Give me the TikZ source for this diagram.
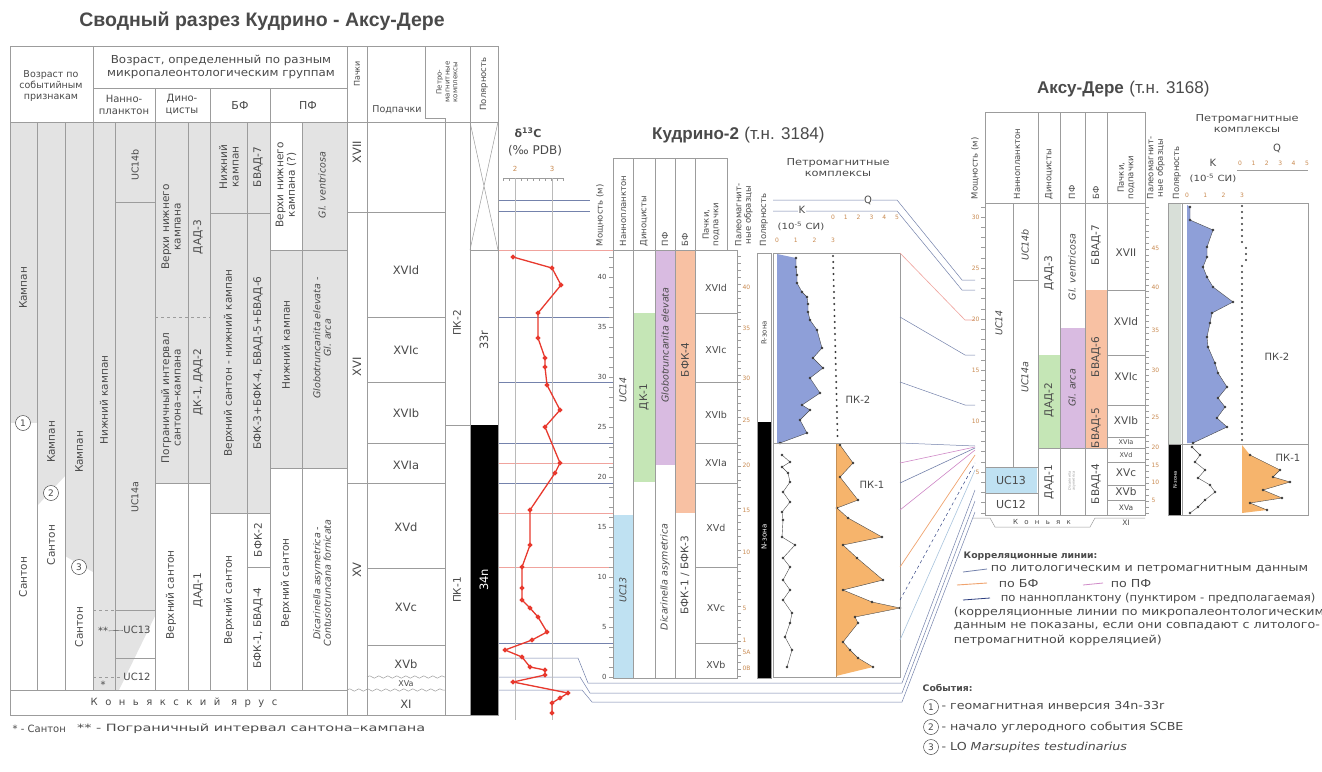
\documentclass[tikz,border=0pt]{standalone}
\usepackage{fontspec}
\setmainfont{DejaVu Sans}
\newfontfamily\hdfont{Liberation Sans}
\usetikzlibrary{positioning,decorations.pathmorphing}
\definecolor{TxtGray}{HTML}{4A4A4A}
\definecolor{GridGray}{HTML}{9C9C9C}
\definecolor{FillGray}{HTML}{E3E3E3}
\definecolor{CurveRed}{HTML}{E8392E}
\definecolor{HairRed}{HTML}{F0A39D}
\definecolor{NannoBlue}{HTML}{BFE1F2}
\definecolor{DinoGreen}{HTML}{C5E6B6}
\definecolor{PfPurple}{HTML}{D9BBE1}
\definecolor{BfSalmon}{HTML}{F8C1A3}
\definecolor{KBlue}{HTML}{8E9FD8}
\definecolor{QOrange}{HTML}{F6B46C}
\definecolor{AxisOrange}{HTML}{C98A50}
\definecolor{CorrBlue}{HTML}{7482AC}
\definecolor{CorrNavy}{HTML}{2E3F80}
\definecolor{CorrOrange}{HTML}{F0A36E}
\definecolor{CorrPink}{HTML}{D08AC8}
\definecolor{PolGray}{HTML}{D8DFD8}
\definecolor{DotGray}{HTML}{3A3A3A}

\begin{document}
\begin{tikzpicture}[
    x=1pt, y=-1pt,
    lab/.style={font=\fontsize{10}{11}\selectfont, text=TxtGray, inner sep=0.5pt, align=center},
    labv/.style={font=\fontsize{10.5}{11.5}\selectfont, text=TxtGray, inner sep=0.5pt, align=center, rotate=90},
    latv/.style={font=\fontsize{9.5}{10.5}\selectfont\itshape, text=TxtGray, inner sep=0.5pt, align=center, rotate=90},
    hd/.style={font=\fontsize{8.5}{9.5}\selectfont, text=TxtGray, inner sep=0.5pt, align=center},
    hdv/.style={hd, rotate=90},
    pkl/.style={font=\fontsize{11.5}{12}\selectfont, text=TxtGray, inner sep=0.5pt},
    pks/.style={font=\fontsize{9.5}{10}\selectfont, text=TxtGray, inner sep=0.5pt},
    smpl/.style={font=\fontsize{6}{6.5}\selectfont, text=AxisOrange, inner sep=0.3pt},
    depth/.style={font=\fontsize{7}{7.5}\selectfont, text=TxtGray, inner sep=0.3pt},
    ttl/.style={font=\hdfont\fontsize{19.5}{22}\selectfont\bfseries, text=TxtGray, inner sep=0},
    sttl/.style={font=\hdfont\fontsize{17}{19}\selectfont\bfseries, text=TxtGray, inner sep=0},
    sttn/.style={font=\hdfont\fontsize{17}{19}\selectfont, text=TxtGray, inner sep=0},
    leg/.style={font=\fontsize{11}{12}\selectfont, text=TxtGray, inner sep=0.5pt, anchor=west, xscale=1.15},
    gl/.style={draw=GridGray, line width=0.5pt},
    corr/.style={draw=CorrBlue, line width=0.5pt},
    rcorr/.style={draw=HairRed, line width=0.6pt},
    wave/.style={gl, decorate, decoration={snake, segment length=9pt, amplitude=1.2pt}},
    kline/.style={draw=TxtGray, line width=0.4pt, mark=*, mark size=1.1pt, mark options={fill=DotGray, draw=DotGray}},
    evc/.style={circle, draw=TxtGray, fill=white, line width=0.5pt, inner sep=0pt, minimum size=15pt, font=\fontsize{9}{10}\selectfont, text=TxtGray},
]
\useasboundingbox (0,0) rectangle (1322,771);
\fill[white] (0,0) rectangle (1322,771);

\node[ttl] (title) at (262,21) {Сводный разрез Кудрино - Аксу-Дере};

% ---------- composite section: fills
\fill[FillGray] (10,122) rectangle (37,423);
\fill[FillGray] (37,122) -- (65,122) -- (65,476) -- (37,506) -- cycle;
\fill[FillGray] (65,122) -- (93,122) -- (93,572) -- (65,556) -- cycle;
\fill[FillGray] (93,122) rectangle (155,610);
\fill[FillGray] (93,610) rectangle (115,690);
\fill[FillGray] (115,610) -- (155,610) -- (155,616) -- (119,690) -- (115,690) -- cycle;
\fill[FillGray] (155,122) rectangle (210,483);
\fill[FillGray] (210,122) rectangle (270,513);
\fill[FillGray] (302,122) rectangle (347,250);
\fill[FillGray] (270,250) rectangle (347,468);
\fill[black] (470,425) rectangle (498,715);

% ---------- correlation lines, left part
\draw[corr] (498,200) -- (590,200);
\draw[corr] (498,211) -- (590,211);
\draw[rcorr] (498,250) -- (613,250);
\foreach \y in {317,382,443,483,643} \draw[corr] (498,\y) -- (613,\y);
\foreach \y in {463,513,567} \draw[rcorr] (498,\y) -- (613,\y);
\draw[corr] (498,658) -- (578,658) -- (588,683) -- (902,683) -- (975,490);
\draw[corr] (498,677) -- (580,677) -- (590,693) -- (902,693) -- (975,501);
\draw[corr] (498,690) -- (582,690) -- (592,702) -- (902,702) -- (975,512);

% ---------- composite section: grid
\draw[gl] (10,46) rectangle (498,715);
\draw[gl] (93,88) -- (347,88);
\draw[gl] (10,122) -- (498,122);
\draw[gl] (93,46) -- (93,690);
\foreach \x in {37,65,115,188,247,302} \draw[gl] (\x,122) -- (\x,690);
\foreach \x in {155,210,270} \draw[gl] (\x,88) -- (\x,690);
\foreach \x in {347,367,470} \draw[gl] (\x,46) -- (\x,715);
\draw[gl] (425,46) -- (425,118) -- (445,118) -- (445,715);
\draw[gl] (10,690) -- (347,690);
\draw[gl, dashed] (155,317) -- (210,317);
\draw[gl] (155,483) -- (210,483);
\draw[gl] (210,213) -- (270,213);
\draw[gl] (210,513) -- (270,513);
\draw[gl] (247,567) -- (270,567);
\draw[gl] (270,250) -- (347,250);
\draw[gl] (270,468) -- (347,468);
\draw[gl] (115,202) -- (155,202);
\draw[gl, dashed] (93,610) -- (115,610);
\draw[gl] (115,610) -- (155,610);
\draw[gl] (115,658) -- (155,658);
\draw[gl, dashed] (93,677) -- (120,677);
\draw[gl] (347,212) -- (445,212);
\draw[gl] (347,483) -- (445,483);
\foreach \y in {317,382,443,568,645} \draw[gl] (367,\y) -- (445,\y);
\draw[wave] (367,677) -- (445,677);
\draw[wave] (347,690) -- (445,690);
\draw[gl] (445,425) -- (470,425);
\draw[gl] (470,250) -- (498,250);
\draw[gl] (470,122) -- (498,250) (498,122) -- (470,250);

% ---------- composite section: texts
\node[hd, font=\fontsize{9.5}{11}\selectfont] (hEv) at (51,86) {Возраст по\\событийным\\признакам};
\node[hd, font=\fontsize{11}{13}\selectfont, xscale=1.08] (hMic) at (221,67) {Возраст, определенный по разным\\микропалеонтологическим группам};
\node[hd, font=\fontsize{10}{12}\selectfont] (hNan) at (124,105) {Нанно-\\планктон};
\node[hd, font=\fontsize{10}{12}\selectfont] (hDin) at (182,105) {Дино-\\цисты};
\node[lab, font=\fontsize{11}{12}\selectfont] (hBf) at (240,105) {БФ};
\node[lab, font=\fontsize{11}{12}\selectfont] (hPf) at (308,105) {ПФ};
\node[hdv, font=\fontsize{8}{9}\selectfont] (hPach) at (357,74) {Пачки};
\node[hd, font=\fontsize{9.5}{10}\selectfont] (hPod) at (397,110) {Подпачки};
\node[hdv, font=\fontsize{7}{7.8}\selectfont] (hPmk) at (447,82) {Петро-\\магнитные\\комплексы};
\node[hdv, font=\fontsize{8.5}{9}\selectfont] (hPol) at (484,84) {Полярность};

\node[labv] (e1a) at (23,288) {Кампан};
\node[labv] (e1b) at (23,577) {Сантон};
\node[labv] (e2a) at (51,442) {Кампан};
\node[labv] (e2b) at (51,545) {Сантон};
\node[labv] (e3a) at (79,452) {Кампан};
\node[labv] (e3b) at (79,627) {Сантон};
\node[evc] (c1) at (23,423) {1};
\node[evc] (c2) at (51,493) {2};
\node[evc] (c3) at (79,567) {3};

\node[labv] (nn1) at (104,400) {Нижний кампан};
\node[latv, font=\fontsize{9.5}{10.5}\selectfont] (uc14b) at (135,165) {UC14b};
\node[latv, font=\fontsize{9.5}{10.5}\selectfont] (uc14a) at (135,497) {UC14a};
\node[lab] (uc13) at (137,630) {UC13};
\node[lab] (uc12) at (137,677) {UC12};
\node[lab] (st2) at (103,631) {**};
\node[lab] (st1) at (103,685) {*};
\draw[TxtGray, line width=0.4pt] (st2) -- (uc13);

\node[labv] (d1) at (171,227) {Верхи нижнего\\кампана};
\node[labv] (d2) at (198,237) {ДАД-3};
\node[labv] (d3) at (171,398) {Пограничный интервал\\сантона–кампана};
\node[labv] (d4) at (198,382) {ДК-1, ДАД-2};
\node[labv] (d5) at (171,595) {Верхний сантон};
\node[labv] (d6) at (198,590) {ДАД-1};

\node[labv] (b1) at (229,167) {Нижний\\кампан};
\node[labv] (b2) at (258,167) {БВАД-7};
\node[labv] (b3) at (229,363) {Верхний сантон - нижний кампан};
\node[labv] (b4) at (258,363) {БФК-3+БФК-4, БВАД-5+БВАД-6};
\node[labv] (b5) at (229,600) {Верхний сантон};
\node[labv] (b6) at (258,540) {БФК-2};
\node[labv] (b7) at (258,628) {БФК-1, БВАД-4};

\node[labv] (p1) at (286,185) {Верхи нижнего\\кампана (?)};
\node[latv] (p2) at (322,185) {Gl. ventricosa};
\node[labv] (p3) at (286,345) {Нижний кампан};
\node[latv] (p4) at (322,338) {Globotruncanita elevata -\\Gl. arca};
\node[labv] (p5) at (286,583) {Верхний сантон};
\node[latv] (p6) at (322,583) {Dicarinella asymetrica -\\Contusotruncana fornicata};

\node[pkl, rotate=90] (pa1) at (357,152) {XVII};
\node[pkl, rotate=90] (pa2) at (357,367) {XVI};
\node[pkl, rotate=90] (pa3) at (357,570) {XV};
\foreach \y/\s [count=\i] in {270/XVId, 350/XVIc, 413/XVIb, 465/XVIa, 527/XVd, 607/XVc, 664/XVb}
  \node[pkl] (pp\i) at (406,\y) {\s};
\node[pkl, font=\fontsize{8}{8}\selectfont] (pp8) at (406,684) {XVa};
\node[pkl] (pp9) at (406,704) {XI};
\node[labv] (pk2) at (457,323) {ПК-2};
\node[labv] (pk1) at (457,590) {ПК-1};
\node[pkl, rotate=90] (pz1) at (484,340) {33r};
\node[pkl, rotate=90, text=white] (pz2) at (484,580) {34n};
\node[lab] (kon) at (184,703) {\addfontfeatures{LetterSpace=75}Коньякский ярус};

\node[lab, anchor=west] (fn1) at (12,729) {* - Сантон};
\node[lab, anchor=west, xscale=1.45] (fn2) at (76,729) {** - Пограничный интервал сантона–кампана};

% ---------- delta 13C
\node[font=\fontsize{11}{12}\selectfont\bfseries, text=TxtGray, inner sep=0] (dttl) at (528,133) {δ\textsuperscript{13}C};
\node[font=\fontsize{12}{13}\selectfont, text=TxtGray, inner sep=0] (dunit) at (535,151) {(‰ PDB)};
\draw[gl] (503,178) -- (563,178);
\foreach \x in {503,509,...,563} \draw[gl] (\x,178) -- (\x,181);
\node[smpl, font=\fontsize{7}{7}\selectfont] (dax1) at (515,169) {2};
\node[smpl, font=\fontsize{7}{7}\selectfont] (dax2) at (552,169) {3};
\draw[draw=GridGray!70] (515,178) -- (515,720) (552,178) -- (552,720);
\draw[CurveRed, line width=1.3pt, mark=*, mark size=1.8pt, mark options={fill=CurveRed, draw=CurveRed}] plot coordinates {
  (513,257) (552,268) (561,285) (538,313) (538,338) (545,358) (545,367) (547,385)
  (560,410) (545,427) (560,463) (555,473) (530,510) (530,545) (522,567) (522,588)
  (522,600) (530,608) (538,617) (547,632) (532,640) (505,650) (522,657) (530,667)
  (545,670) (545,675) (513,682) (568,693) (560,698) (552,703) (552,713)};

% ---------- Кудрино-2
\node[sttl, anchor=base west] (k2) at (652,139) {Кудрино-2};
\node[sttn, anchor=base west] (k2n) at ([xshift=5pt]k2.base east) {(т.н. 3184)};
\fill[NannoBlue] (613,515) rectangle (633,678);
\fill[DinoGreen] (633,313) rectangle (655,482);
\fill[PfPurple] (655,250) rectangle (675,465);
\fill[BfSalmon] (675,250) rectangle (695,513);
\draw[gl] (613,158) -- (727,158);
\foreach \x in {613,633,655,675,695,727} \draw[gl] (\x,158) -- (\x,250);
\draw[gl] (613,250) rectangle (737,678);
\foreach \x in {633,655,675,695} \draw[gl] (\x,250) -- (\x,678);
\foreach \y in {313,382,443,483,567,643} \draw[gl] (695,\y) -- (737,\y);
\node[hdv, anchor=west] (kh1) at (600,247) {Мощность (м)};
\node[hdv, anchor=west] (kh2) at (623,247) {Наннопланктон};
\node[hdv, anchor=west] (kh3) at (644,247) {Диноцисты};
\node[hdv, anchor=west] (kh4) at (665,247) {ПФ};
\node[hdv, anchor=west] (kh5) at (685,247) {БФ};
\node[hdv, anchor=west] (kh6) at (711,247) {Пачки,\\подпачки};
\node[hdv, anchor=west] (kh7) at (744,247) {Палеомагнит-\\ные образцы};
\node[hdv, anchor=west] (kh8) at (764,247) {Полярность};
\node[latv] (kuc14) at (623,390) {UC14};
\node[latv] (kuc13) at (623,590) {UC13};
\node[labv] (kdk1) at (644,397) {ДК-1};
\node[latv] (kpf1) at (665,345) {Globotruncanita elevata};
\node[latv] (kpf2) at (665,577) {Dicarinella asymetrica};
\node[labv] (kbf1) at (685,360) {БФК-4};
\node[labv] (kbf2) at (685,575) {БФК-1 / БФК-3};
\foreach \y/\s [count=\i] in {288/XVId, 350/XVIc, 415/XVIb, 463/XVIa, 528/XVd, 608/XVc, 665/XVb}
  \node[pks] (kp\i) at (716,\y) {\s};
\foreach \v in {0,...,42} \draw[gl] (609,{677-10*\v}) -- (613,{677-10*\v});
\foreach \v in {0,5,...,40} \node[depth, anchor=east] (kd\v) at (607,{677-10*\v}) {\v};
\foreach \y in {256,263,...,676} \draw[gl] (737,\y) -- (741,\y);
\foreach \y/\s [count=\i] in {287/40, 328/35, 378/30, 420/25, 465/20, 510/15, 552/10, 608/5, 640/1, 652/5A, 668/0B}
  \node[smpl, anchor=west] (ks\i) at (742,\y) {\s};
\fill[black] (757,422) rectangle (771,678);
\draw[gl] (757,253) rectangle (771,678);
\node[hdv, font=\fontsize{7}{8}\selectfont] (kr) at (764,333) {R-зона};
\node[hdv, font=\fontsize{7}{8}\selectfont, text=white] (kn) at (764,537) {N-зона};

% petromagnetic logs, Кудрино-2
\fill[KBlue] (777,254) -- (796,258) -- (796,267) -- (797,275) -- (797,283) -- (802,292) -- (807,297)
  -- (808,304) -- (808,312) -- (810,320) -- (817,330) -- (822,348) -- (813,358) -- (823,368)
  -- (810,378) -- (820,393) -- (802,405) -- (810,410) -- (800,420) -- (807,433) -- (780,443)
  -- (777,443) -- cycle;
\draw[kline] plot coordinates {(796,258) (796,267) (797,275) (797,283) (802,292) (807,297)
  (808,304) (808,312) (810,320) (817,330) (822,348) (813,358) (823,368) (810,378) (820,393)
  (802,405) (810,410) (800,420) (807,433) (780,443)};
\draw[kline] plot coordinates {(782,455) (790,462) (782,467) (788,473) (790,482) (783,492)
  (790,502) (782,512) (783,520) (782,537) (795,545) (783,558) (790,567) (783,580) (790,590)
  (783,600) (792,613) (790,623) (785,637) (792,650) (787,667)};
\fill[QOrange] (836,443) -- (840,445) -- (853,463) -- (840,477) -- (858,500) -- (837,508)
  -- (848,518) -- (882,537) -- (843,545) -- (857,558) -- (883,580) -- (843,590) -- (872,602)
  -- (900,608) -- (855,617) -- (858,623) -- (843,642) -- (850,650) -- (858,658) -- (873,667)
  -- (836,676) -- cycle;
\draw[kline] plot coordinates {(840,445) (853,463) (840,477) (858,500) (837,508) (848,518)
  (882,537) (843,545) (857,558) (883,580) (843,590) (872,602) (900,608) (855,617) (858,623)
  (843,642) (850,650) (858,658) (873,667)};
\draw[draw=QOrange!80!black, line width=0.4pt] (836,443) -- (836,677);
\foreach \y in {256,262,...,440} \fill[DotGray] ({833+0.025*(\y-256)},\y) circle (1.1pt);
\draw[gl] (773,253) rectangle (900,677);
\draw[gl] (773,443) -- (900,443);
\node[lab] (kpk2) at (858,400) {ПК-2};
\node[lab] (kpk1) at (872,485) {ПК-1};
\node[hd, font=\fontsize{9.5}{11}\selectfont, xscale=1.2] (kph) at (838,168) {Петромагнитные\\комплексы};
\foreach \v [count=\i] in {0,...,5} \node[smpl] (kqa\i) at ({833+12.8*\v},217) {\v};
\foreach \v [count=\i] in {0,...,3} \node[smpl] (kka\i) at ({777+18.7*\v},240) {\v};
\node[hd, font=\fontsize{8.5}{9}\selectfont, xscale=1.2] (kku) at (801,226) {(10\textsuperscript{-5} СИ)};

% ---------- correlation lines Кудрино-2 -> Аксу-Дере
\draw[corr] (773,200) -- (897,200) -- (962,280) -- (975,280);
\draw[corr] (773,211) -- (897,211) -- (962,290) -- (975,290);
\node[hd, fill=white, font=\fontsize{10}{11}\selectfont] (kq) at (868,200) {Q};
\node[hd, fill=white, font=\fontsize{10}{11}\selectfont] (kk) at (802,210) {K};
\draw[rcorr] (900,253) -- (965,320) -- (975,320);
\draw[corr] (900,317) -- (965,355) -- (975,355);
\draw[corr] (900,382) -- (965,405) -- (975,405);
\draw[corr] (900,443) -- (975,446);
\draw[draw=CorrPink, line width=0.6pt] (900,463) -- (975,447);
\draw[draw=CorrBlue, line width=0.6pt] (900,483) -- (975,448);
\draw[draw=CorrPink, line width=0.6pt] (900,510) -- (975,450);
\draw[draw=CorrOrange, line width=0.7pt] (900,567) -- (975,455);
\draw[draw=CorrNavy, line width=0.5pt, dashed] (900,600) -- (975,463);
\draw[draw=NannoBlue!70!CorrBlue, line width=0.6pt] (900,640) -- (975,470);

% ---------- Аксу-Дере
\node[sttl, anchor=base west] (ak) at (1037,93) {Аксу-Дере};
\node[sttn, anchor=base west] (akn) at ([xshift=5pt]ak.base east) {(т.н. 3168)};
\fill[NannoBlue] (985,467) rectangle (1037,493);
\fill[DinoGreen] (1038,355) rectangle (1060,448);
\fill[PfPurple] (1060,328) rectangle (1085,448);
\fill[BfSalmon] (1085,290) rectangle (1107,448);
\draw[gl] (985,112) -- (1145,112);
\foreach \x in {985,1038,1060,1085,1107,1145} \draw[gl] (\x,112) -- (\x,203);
\draw[gl] (985,203) rectangle (1145,515);
\draw[gl] (1013,203) -- (1013,467);
\foreach \x in {1038,1060,1085,1107} \draw[gl] (\x,203) -- (\x,515);
\draw[gl] (1013,280) -- (1038,280);
\draw[gl] (985,467) -- (1038,467) (985,493) -- (1038,493);
\draw[gl] (1038,448) -- (1107,448);
\foreach \y in {290,355,405,437,448,462,485,500} \draw[gl] (1107,\y) -- (1145,\y);
\draw[gl] (973,518) -- (990,518) -- (995,527) -- (1090,527) -- (1095,518) -- (1145,518);
\node[hdv, anchor=west] (ah1) at (975,200) {Мощность (м)};
\node[hdv, anchor=west] (ah2) at (1017,200) {Наннопланктон};
\node[hdv, anchor=west] (ah3) at (1049,200) {Диноцисты};
\node[hdv, anchor=west] (ah4) at (1072,200) {ПФ};
\node[hdv, anchor=west] (ah5) at (1096,200) {БФ};
\node[hdv, anchor=west] (ah6) at (1126,200) {Пачки,\\подпачки};
\node[hdv, anchor=west] (ah7) at (1156,200) {Палеомагнит-\\ные образцы};
\node[hdv, anchor=west] (ah8) at (1177,200) {Полярность};
\node[latv] (auc14) at (999,323) {UC14};
\node[latv] (auc14b) at (1025,245) {UC14b};
\node[latv] (auc14a) at (1025,377) {UC14a};
\node[lab, font=\fontsize{11}{11}\selectfont] (auc13) at (1011,480) {UC13};
\node[lab, font=\fontsize{11}{11}\selectfont] (auc12) at (1011,504) {UC12};
\node[labv] (ad3) at (1049,273) {ДАД-3};
\node[labv] (ad2) at (1049,400) {ДАД-2};
\node[labv] (ad1) at (1049,482) {ДАД-1};
\node[latv] (apf1) at (1072,267) {Gl. ventricosa};
\node[latv] (apf2) at (1072,388) {Gl. arca};
\node[latv, font=\fontsize{3.5}{4}\selectfont\itshape, text=GridGray] (apf3) at (1072,481) {Dicarinella\\asymetrica};
\node[labv] (abf1) at (1096,245) {БВАД-7};
\node[labv] (abf2) at (1096,357) {БВАД-6};
\node[labv] (abf3) at (1096,428) {БВАД-5};
\node[labv] (abf4) at (1096,484) {БВАД-4};
\foreach \y/\s [count=\i] in {253/XVII, 322/XVId, 377/XVIc, 421/XVIb, 473/XVc, 492/XVb}
  \node[pks, font=\fontsize{10.5}{11}\selectfont] (ap\i) at (1126,\y) {\s};
\node[pks, font=\fontsize{6.5}{6.5}\selectfont] (ap7) at (1126,442) {XVIa};
\node[pks, font=\fontsize{6.5}{6.5}\selectfont] (ap8) at (1126,455) {XVd};
\node[pks, font=\fontsize{7.5}{7.5}\selectfont] (ap9) at (1126,508) {XVa};
\node[pks, font=\fontsize{7.5}{7.5}\selectfont] (ap10) at (1126,523) {XI};
\node[hd, font=\fontsize{7}{7}\selectfont] (akon) at (1042,522) {\addfontfeatures{LetterSpace=90}Коньяк};
\foreach \v in {1,...,31} \draw[gl] (981,{523-10.2*\v}) -- (985,{523-10.2*\v});
\foreach \v in {5,10,...,30} \node[smpl, anchor=east] (ad\v) at (980,{523-10.2*\v}) {\v};
\foreach \y in {207,213,...,513} \draw[gl] (1145,\y) -- (1149,\y);
\foreach \y/\s [count=\i] in {248/45, 287/40, 330/35, 370/30, 417/25, 447/20, 465/15, 482/10, 500/5}
  \node[smpl, anchor=west] (as\i) at (1151,\y) {\s};

% petromagnetic logs, Аксу-Дере
\fill[PolGray] (1169,204) rectangle (1181,445);
\fill[black] (1169,445) rectangle (1181,515);
\node[hdv, font=\fontsize{5}{5}\selectfont, text=white] (apn) at (1175,480) {N-зона};
\fill[KBlue] (1187,205) -- (1190,207) -- (1190,220) -- (1213,230) -- (1207,247) -- (1207,257)
  -- (1203,267) -- (1207,277) -- (1213,287) -- (1233,302) -- (1212,313) -- (1210,323)
  -- (1207,337) -- (1208,347) -- (1215,363) -- (1218,373) -- (1227,387) -- (1218,398)
  -- (1225,407) -- (1217,418) -- (1227,427) -- (1193,443) -- (1187,443) -- cycle;
\draw[kline] plot coordinates {(1190,207) (1190,220) (1213,230) (1207,247) (1207,257)
  (1203,267) (1207,277) (1213,287) (1233,302) (1212,313) (1210,323) (1207,337) (1208,347)
  (1215,363) (1218,373) (1227,387) (1218,398) (1225,407) (1217,418) (1227,427) (1193,443)};
\draw[kline] plot coordinates {(1192,447) (1200,455) (1195,462) (1205,470) (1198,478)
  (1210,485) (1215,492) (1205,500) (1198,507) (1190,513)};
\fill[QOrange] (1242,445) -- (1250,455) -- (1280,470) -- (1273,477) -- (1290,482) -- (1263,490)
  -- (1282,498) -- (1250,503) -- (1267,510) -- (1242,513) -- cycle;
\draw[kline] plot coordinates {(1250,455) (1280,470) (1273,477) (1290,482) (1263,490)
  (1282,498) (1250,503) (1267,510)};
\foreach \y in {206,212,...,440} \fill[DotGray] ({1242+(\y>245)*(\y<262)*4},\y) circle (1.1pt);
\draw[gl] (1168,203) rectangle (1308,515);
\draw[gl] (1182,203) -- (1182,515);
\draw[gl] (1168,444) -- (1308,444);
\node[lab] (apk2) at (1277,357) {ПК-2};
\node[lab] (apk1) at (1288,458) {ПК-1};
\node[hd, font=\fontsize{9.5}{11}\selectfont, xscale=1.2] (aph) at (1247,124) {Петромагнитные\\комплексы};
\node[hd, font=\fontsize{10}{11}\selectfont] (aq) at (1277,148) {Q};
\foreach \v [count=\i] in {0,...,5} \node[smpl] (aqa\i) at ({1240+13.4*\v},163) {\v};
\draw[gl] (1237,170) -- (1308,170);
\node[hd, font=\fontsize{10}{11}\selectfont] (akk) at (1213,163) {K};
\node[hd, font=\fontsize{8.5}{9}\selectfont, xscale=1.2] (aku) at (1213,178) {(10\textsuperscript{-5} СИ)};
\foreach \v [count=\i] in {0,...,3} \node[smpl] (aka\i) at ({1187+18.3*\v},195) {\v};

% ---------- legend
\node[leg, font=\fontsize{9}{10}\selectfont\bfseries, xscale=0.9] (lgT) at (963,556) {Корреляционные линии:};
\draw[draw=CorrBlue, line width=0.8pt] (963,572) -- (987,569);
\node[leg] (lg1) at (990,570) {по литологическим и петромагнитным данным};
\draw[draw=CorrOrange, line width=0.9pt] (957,585) -- (987,583);
\node[leg] (lg2) at (998,584) {по БФ};
\draw[draw=CorrPink, line width=0.8pt] (1083,585) -- (1103,583);
\node[leg] (lg3) at (1110,584) {по ПФ};
\draw[draw=CorrNavy, line width=0.8pt] (963,600) -- (990,598);
\node[leg, xscale=0.92] (lg4) at (1000,598) {по наннопланктону (пунктиром - предполагаемая)};
\node[leg] (lg5) at (953,612) {(корреляционные линии по микропалеонтологическим};
\node[leg] (lg6) at (953,626) {данным не показаны, если они совпадают с литолого-};
\node[leg] (lg7) at (953,640) {петромагнитной корреляцией)};
\node[leg, font=\fontsize{9}{10}\selectfont\bfseries, xscale=0.9] (evT) at (922,688) {События:};
\node[evc] (ev1) at (931,707) {1};
\node[leg, right=2pt of ev1] (ev1t) {- геомагнитная инверсия 34n-33r};
\node[evc] (ev2) at (931,727) {2};
\node[leg, right=2pt of ev2] (ev2t) {- начало углеродного события SCBE};
\node[evc] (ev3) at (931,747) {3};
\node[leg, right=2pt of ev3] (ev3t) {- LO \textit{Marsupites testudinarius}};
\end{tikzpicture}
\end{document}
